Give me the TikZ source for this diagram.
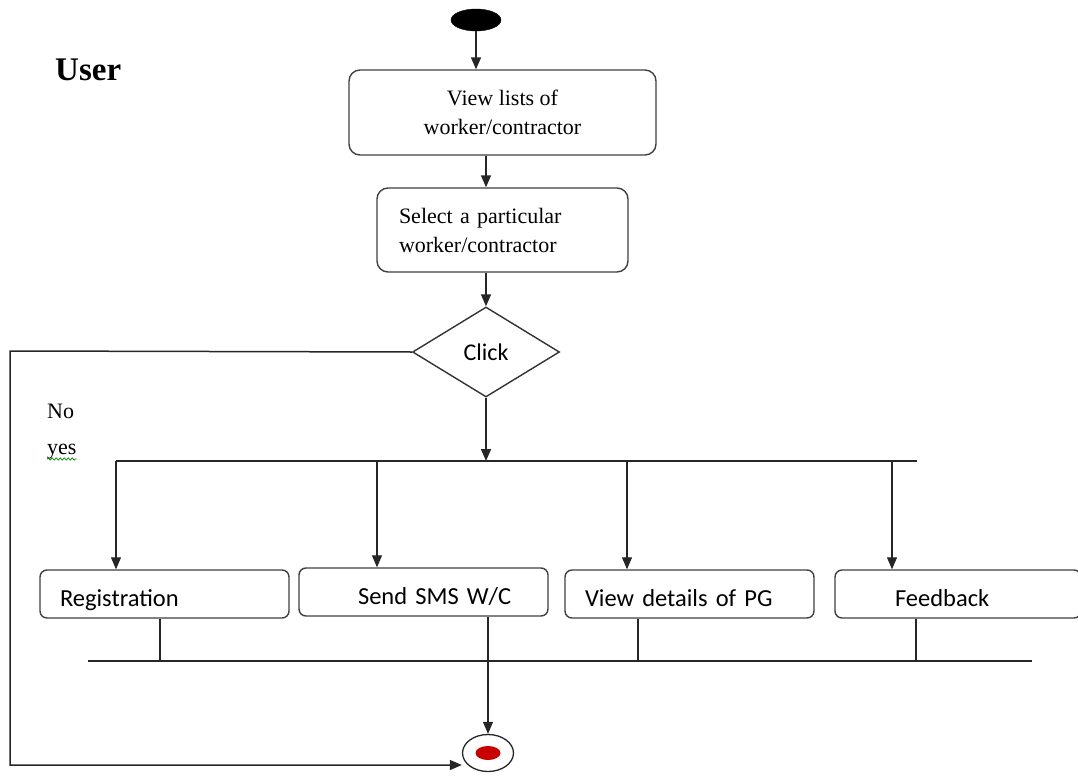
\documentclass[tikz,border=0pt]{standalone}
\usepackage{fontspec}
\setmainfont{Liberation Serif}
\newfontfamily\calib{Carlito}
\usetikzlibrary{shapes.geometric,arrows.meta,decorations.pathmorphing}
\begin{document}
\begin{tikzpicture}[x=1pt,y=-1pt,
  line/.style={line width=1.5pt, draw=black!85},
  thinline/.style={line width=1.1pt, draw=black!85},
  arr/.style={line, -{Triangle[length=12pt,width=10pt]}},
  thinarr/.style={thinline, -{Triangle[length=12pt,width=10pt]}},
  rbox/.style={draw=black!75, line width=1.4pt, rounded corners=11pt, fill=white, inner sep=0pt},
  sbox/.style={draw=black!75, line width=1.4pt, rounded corners=7pt, fill=white, inner sep=0pt,
    minimum height=48pt, text height=24pt, text depth=0pt, font=\calib\fontsize{24.5}{28}\selectfont, align=left},
  serif/.style={font=\fontsize{22}{29}\selectfont}]
\useasboundingbox (0,0) rectangle (1078,776);
\clip (0,0) rectangle (1078,776);

% title and labels
\node[anchor=base west, font=\bfseries\fontsize{33}{38}\selectfont, inner sep=0] (user) at (55,81) {User};
\node[anchor=base west, serif, inner sep=0] (no) at (47,418) {No};
\node[anchor=base west, serif, inner sep=0] (yes) at (47,454) {yes};
\draw[green!55!black, line width=0.7pt, decorate, decoration={snake, amplitude=1.1pt, segment length=4pt}]
  ([yshift=-5pt]yes.base west) -- ([yshift=-5pt]yes.base east);

% start
\node[fill=black, draw=black, ellipse, minimum width=50pt, minimum height=22pt, inner sep=0] (start) at (476,20) {};

% activities
\node[rbox, serif, minimum width=307pt, minimum height=85pt, align=center] (view) at (502.5,112.5)
  {View lists of\\worker/contractor};
\node[rbox, serif, minimum width=251pt, minimum height=84pt, text width=207pt, align=left] (select) at (502.5,230)
  {Select a particular\\worker/contractor};

% decision
\node[diamond, draw=black!80, line width=1.4pt, fill=white, minimum width=147pt, minimum height=90pt, inner sep=0,
  font=\calib\fontsize{24}{28}\selectfont] (click) at (486,352) {Click};

% bottom activities
\node[sbox, minimum width=249pt, text width=229pt] (reg) at (164.5,594) {\hspace*{10pt}Registration};
\node[sbox, minimum width=249pt, text width=229pt] (sms) at (423.5,592) {\hspace*{49pt}Send SMS W/C};
\node[sbox, minimum width=249pt, text width=229pt] (pg) at (689.5,594) {\hspace*{10pt}View details of PG};
\node[sbox, minimum width=246pt, text width=226pt] (fb) at (958,594) {\hspace*{50pt}Feedback};

% final
\node[ellipse, draw=black!85, line width=1.3pt, fill=white, minimum width=51pt, minimum height=37pt, inner sep=0] (final) at (488,753) {};
\node[ellipse, fill=red!78!black, minimum width=25pt, minimum height=14pt, inner sep=0] (finalin) at (final.center) {};

% connectors top
\draw[arr] (start.south) -- (start.south |- view.north);
\draw[arr] (view.south -| click.north) -- (select.north -| click.north);
\draw[arr] (select.south -| click.north) -- (click.north);

% fork bar
\coordinate (forkL) at (116,461);
\coordinate (forkR) at (917,461);
\draw[line] (forkL) -- (forkR);
\draw[arr] (click.south) -- (click.south |- forkL);
\coordinate (d1) at (116,461);
\coordinate (d2) at (377,461);
\coordinate (d3) at (627,461);
\coordinate (d4) at (892,461);
\draw[thinarr] (d1) -- (d1 |- reg.north);
\draw[thinarr] (d2) -- (d2 |- sms.north);
\draw[thinarr] (d3) -- (d3 |- pg.north);
\draw[thinarr] (d4) -- (d4 |- fb.north);

% join bar
\coordinate (jL) at (88,661);
\coordinate (jR) at (1032,661);
\draw[line] (jL) -- (jR);
\coordinate (j1) at (160,661);
\coordinate (j3) at (638,661);
\coordinate (j4) at (916,661);
\draw[thinline] (reg.south -| j1) -- (j1);
\draw[thinline] (pg.south -| j3) -- (j3);
\draw[thinline] (fb.south -| j4) -- (j4);
\draw[thinarr] (sms.south -| final.north) -- (final.north);

% no branch loop
\coordinate (lc1) at (10,351);
\coordinate (lc2) at (10,765);
\draw[arr] (click.west) -- (lc1) -- (lc2) -- (lc2 -| final.west);
\end{tikzpicture}
\end{document}
